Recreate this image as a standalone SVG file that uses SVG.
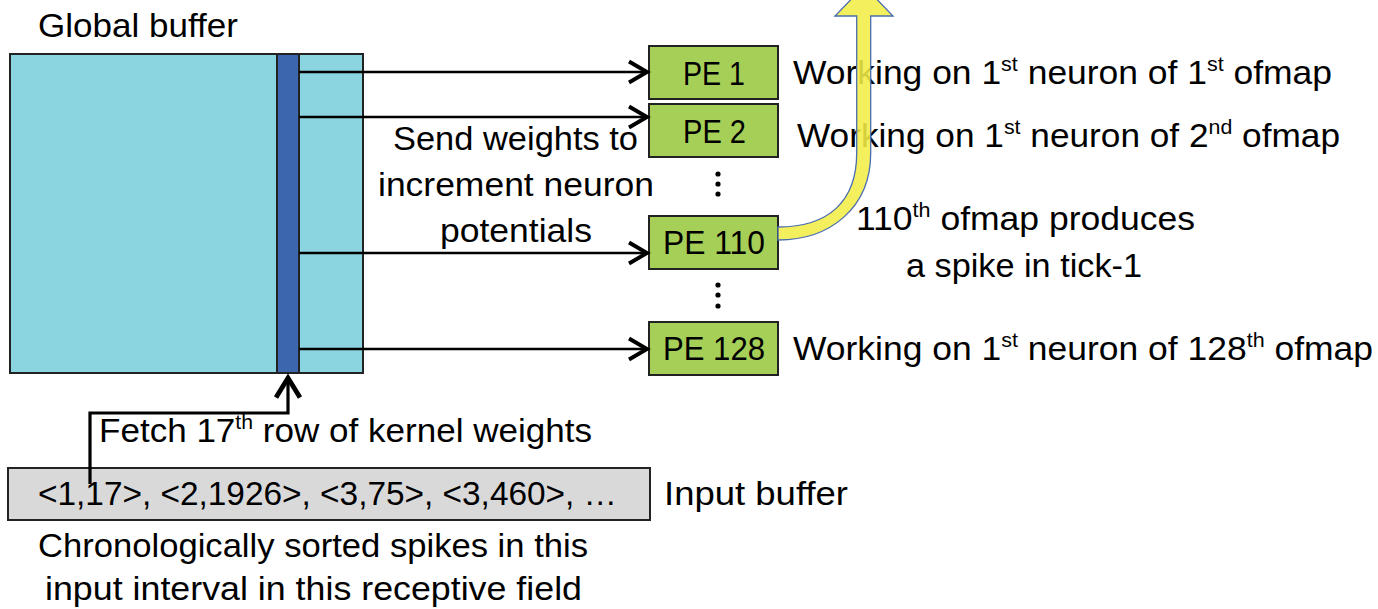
<svg xmlns="http://www.w3.org/2000/svg" width="1378" height="609" viewBox="0 0 1378 609">
<defs>
<style>
text{font-family:"Liberation Sans",Arial,sans-serif;font-size:33px;fill:#000}
.sup{font-size:20px}
.box{stroke:#222;stroke-width:2}
.pe{fill:#a6cf58;stroke:#222;stroke-width:2}
.ln{stroke:#000;stroke-width:2.6;fill:none}
</style>
<marker id="ah" markerUnits="userSpaceOnUse" markerWidth="30" markerHeight="30" refX="0" refY="0" viewBox="-16 -10 18 20" orient="auto">
<path d="M-12,-7 L0,0 L-12,7" fill="none" stroke="#000" stroke-width="2.6"/>
</marker>
<marker id="ah2" markerUnits="userSpaceOnUse" markerWidth="30" markerHeight="30" refX="0" refY="0" viewBox="-16 -10 18 20" orient="auto">
<path d="M-13,-8 L0,0 L-13,8" fill="none" stroke="#000" stroke-width="3.2"/>
</marker>
</defs>
<rect width="1378" height="609" fill="#fff"/>

<g id="global-buffer">
<text x="38" y="37" textLength="200" lengthAdjust="spacingAndGlyphs">Global buffer</text>
<rect class="box" x="10" y="54" width="353" height="319" fill="#8bd5e1"/>
<rect class="box" x="277" y="54" width="22" height="319" fill="#3c66ae"/>
</g>

<g id="pe1">
<rect class="pe" x="649" y="46" width="129" height="53"/>
<text x="683" y="85" textLength="62" lengthAdjust="spacingAndGlyphs">PE 1</text>
<text x="793" y="84" textLength="539" lengthAdjust="spacingAndGlyphs">Working on 1<tspan class="sup" dy="-13">st</tspan><tspan dy="13"> neuron of 1</tspan><tspan class="sup" dy="-13">st</tspan><tspan dy="13"> ofmap</tspan></text>
</g>

<g id="pe2">
<rect class="pe" x="649" y="104" width="129" height="53"/>
<text x="683" y="143" textLength="63" lengthAdjust="spacingAndGlyphs">PE 2</text>
<text x="797" y="147" textLength="543" lengthAdjust="spacingAndGlyphs">Working on 1<tspan class="sup" dy="-13">st</tspan><tspan dy="13"> neuron of 2</tspan><tspan class="sup" dy="-13">nd</tspan><tspan dy="13"> ofmap</tspan></text>
</g>

<g id="dots1" fill="#000">
<circle cx="718" cy="174" r="2.6"/>
<circle cx="718" cy="184" r="2.6"/>
<circle cx="718" cy="194" r="2.6"/>
</g>

<g id="pe110">
<rect class="pe" x="649" y="216" width="129" height="53"/>
<text x="663" y="254" textLength="102" lengthAdjust="spacingAndGlyphs">PE 110</text>
<text x="856" y="230" textLength="339" lengthAdjust="spacingAndGlyphs">110<tspan class="sup" dy="-13">th</tspan><tspan dy="13"> ofmap produces</tspan></text>
<text x="906" y="277" textLength="236" lengthAdjust="spacingAndGlyphs">a spike in tick-1</text>
</g>

<g id="dots2" fill="#000">
<circle cx="718" cy="285" r="2.6"/>
<circle cx="718" cy="295" r="2.6"/>
<circle cx="718" cy="306" r="2.6"/>
</g>

<g id="pe128">
<rect class="pe" x="649" y="322" width="129" height="53"/>
<text x="663" y="360" textLength="102" lengthAdjust="spacingAndGlyphs">PE 128</text>
<text x="793" y="360" textLength="580" lengthAdjust="spacingAndGlyphs">Working on 1<tspan class="sup" dy="-13">st</tspan><tspan dy="13"> neuron of 128</tspan><tspan class="sup" dy="-13">th</tspan><tspan dy="13"> ofmap</tspan></text>
</g>

<g id="send-label">
<text x="393" y="150" textLength="245" lengthAdjust="spacingAndGlyphs">Send weights to</text>
<text x="378" y="196" textLength="276" lengthAdjust="spacingAndGlyphs">increment neuron</text>
<text x="440" y="242" textLength="152" lengthAdjust="spacingAndGlyphs">potentials</text>
</g>

<g id="fetch-label">
<text x="99" y="442" textLength="493" lengthAdjust="spacingAndGlyphs">Fetch 17<tspan class="sup" dy="-13">th</tspan><tspan dy="13"> row of kernel weights</tspan></text>
</g>

<g id="input-buffer">
<rect class="box" x="8" y="468" width="642" height="52" fill="#d9d9d9"/>
<text x="38" y="505" textLength="579" lengthAdjust="spacingAndGlyphs">&lt;1,17&gt;, &lt;2,1926&gt;, &lt;3,75&gt;, &lt;3,460&gt;, …</text>
<text x="664" y="505" textLength="184" lengthAdjust="spacingAndGlyphs">Input buffer</text>
<text x="38" y="557" textLength="550" lengthAdjust="spacingAndGlyphs">Chronologically sorted spikes in this</text>
<text x="45" y="600" textLength="537" lengthAdjust="spacingAndGlyphs">input interval in this receptive field</text>
</g>

<g id="connectors">
<line class="ln" x1="299" y1="72" x2="647" y2="72" marker-end="url(#ah)"/>
<line class="ln" x1="299" y1="117" x2="647" y2="117" marker-end="url(#ah)"/>
<line class="ln" x1="299" y1="253" x2="647" y2="253" marker-end="url(#ah)"/>
<line class="ln" x1="299" y1="349" x2="647" y2="349" marker-end="url(#ah)"/>
<path d="M90,484 L90,413 L288,413 L288,378" fill="none" stroke="#000" stroke-width="3.2" marker-end="url(#ah2)"/>
<path d="M778,227 C830,227 856.7,200 856.7,153 L856.7,16 L835,16 L864,-14 L893,16 L870.7,16 L870.7,153 C870.7,208 830,240 778,240 Z" fill="#f3ed45" fill-opacity="0.88" stroke="#4a6db0" stroke-width="1.3"/>
</g>
</svg>
